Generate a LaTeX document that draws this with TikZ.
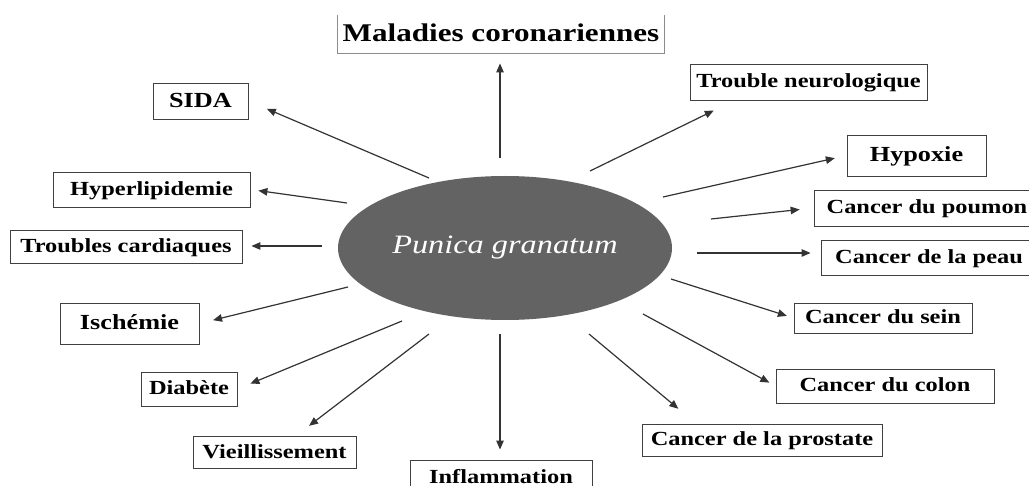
\documentclass[tikz,border=0pt]{standalone}
\usepackage{fontspec}
\setmainfont{Liberation Serif}[FakeStretch=1.22]
\usepackage{xcolor}
\usetikzlibrary{arrows.meta,shapes.geometric}

\definecolor{pgcol}{RGB}{99,99,99}

\begin{document}
\begin{tikzpicture}[x=1pt, y=-1pt,
    disease/.style={draw=black!75, line width=0.9pt, inner sep=0pt,
                    text height=12.5pt, text depth=0.5pt,
                    font=\bfseries\fontsize{20}{24}\selectfont},
    bigtext/.style={font=\bfseries\fontsize{21.5}{26}\selectfont,
                    text height=13.5pt},
    plant/.style={ellipse, fill=pgcol, text=white, inner sep=0pt,
                  font=\itshape\fontsize{26.5}{30}\selectfont},
    arr/.style={-{Triangle[length=9pt, width=7.5pt]}, line width=1.2pt, draw=black!80}]
  \useasboundingbox (0,0) rectangle (1029,486);
  \clip (0,0) rectangle (1029,486);

  \node[plant, minimum width=334, minimum height=144] (pg) at (505,248) {Punica granatum};

  % left side
  \node[disease, bigtext, minimum width=95,  minimum height=36] (sida)  at (200.5,101)   {SIDA};
  \node[disease, minimum width=197, minimum height=35] (hyper) at (151.5,189.5) {Hyperlipidemie};
  \node[disease, minimum width=232, minimum height=33] (card)  at (126,246.5)   {Troubles cardiaques};
  \node[disease, bigtext, minimum width=139, minimum height=41] (isch)  at (129.5,323.5) {Ischémie};
  \node[disease, minimum width=96,  minimum height=34] (diab)  at (189,389)     {Diabète};
  \node[disease, minimum width=163, minimum height=32] (vieil) at (274.5,452)   {Vieillissement};
  \node[disease, minimum width=182, minimum height=34] (infl)  at (501,477)     {Inflammation};

  % top
  \node[disease, draw=none, font=\bfseries\fontsize{25.5}{30}\selectfont,
        text height=16.5pt, minimum width=326, minimum height=38] (mal) at (501,34) {Maladies coronariennes};
  \draw[black!45, line width=0.9pt] (mal.north west) -- (mal.south west)
    -- (mal.south east) -- (mal.north east);

  % right side
  \node[disease, minimum width=237, minimum height=36] (neuro) at (808.5,82)  {Trouble neurologique};
  \node[disease, bigtext, minimum width=139, minimum height=41] (hyp) at (916.5,155.5) {Hypoxie};
  \node[disease, minimum width=226, minimum height=36] (poum)  at (927,208)   {Cancer du poumon};
  \node[disease, minimum width=216, minimum height=35] (peau)  at (929,257.5) {Cancer de la peau};
  \node[disease, minimum width=178, minimum height=30] (sein)  at (883,318)   {Cancer du sein};
  \node[disease, minimum width=218, minimum height=34] (colon) at (885,386)   {Cancer du colon};
  \node[disease, minimum width=240, minimum height=32] (pros)  at (762,440)   {Cancer de la prostate};

  % arrow starts, just off the ellipse
  \coordinate (s-mal)   at (500,158);
  \coordinate (s-sida)  at (429,178);
  \coordinate (s-hyper) at (347,203);
  \coordinate (s-card)  at (322,246);
  \coordinate (s-isch)  at (348,287);
  \coordinate (s-diab)  at (402,321);
  \coordinate (s-vieil) at (429,334);
  \coordinate (s-infl)  at (500,334);
  \coordinate (s-pros)  at (589,334);
  \coordinate (s-colon) at (643,314);
  \coordinate (s-sein)  at (671,279);
  \coordinate (s-peau)  at (697,253);
  \coordinate (s-poum)  at (711,219);
  \coordinate (s-hyp)   at (663,197);
  \coordinate (s-neuro) at (590,171);

  \draw[arr, shorten >=10pt] (s-mal) -- (s-mal |- mal.south);
  \draw[arr, shorten >=20pt] (s-sida) -- (sida.east);
  \draw[arr, shorten >=8pt]  (s-hyper) -- (hyper.east);
  \draw[arr, shorten >=9pt]  (s-card) -- (s-card -| card.east);
  \draw[arr, shorten >=14pt] (s-isch) -- (isch.east);
  \draw[arr, shorten >=14pt] (s-diab) -- (diab.east);
  \draw[arr, shorten >=16pt] (s-vieil) -- (vieil.37);
  \draw[arr, shorten >=10pt] (s-infl) -- (s-infl |- infl.north);
  \draw[arr, shorten >=23pt] (s-pros) -- (pros.166);
  \draw[arr, shorten >=7pt]  (s-colon) -- (colon.west);
  \draw[arr, shorten >=7pt]  (s-sein) -- (sein.west);
  \draw[arr, shorten >=10pt] (s-peau) -- (s-peau -| peau.west);
  \draw[arr, shorten >=14pt] (s-poum) -- (poum.west);
  \draw[arr, shorten >=12pt] (s-hyp) -- (hyp.west);
  \draw[arr, shorten >=23pt] (s-neuro) -- (neuro.194);
\end{tikzpicture}
\end{document}
